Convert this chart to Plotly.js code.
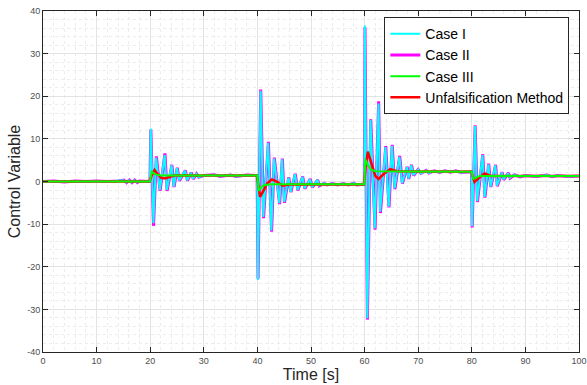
<!DOCTYPE html>
<html>
<head>
<meta charset="utf-8">
<script src="https://cdn.plot.ly/plotly-3.0.1.min.js"></script>
<style>
html,body{margin:0;padding:0;background:#fff;}
#chart{width:587px;height:385px;}
</style>
</head>
<body>
<div id="chart"></div>
<script>
// ---- Data ----
const case1T = [0,2,4,6,8,10,12,14,15,15.5,16,16.5,17,17.5,18,19.95,
  20.1,20.6,21.1,21.8,22.7,23.1,24.0,24.4,25.0,25.4,26.5,26.9,27.6,28.0,28.6,29.0,30,32,33,35,36,38,39.95,
  40.1,40.6,41.1,42.0,42.6,43.1,44.1,44.6,45.0,45.8,46.2,47.0,47.5,48.4,48.8,49.8,50.2,51.2,51.5,52.5,53,54,55,56,57,58,58.5,59.95,
  60.05,60.5,61.1,61.9,62.6,62.9,63.9,64.5,65.1,65.6,66.5,67.0,67.9,68.2,68.7,69.1,70,70.5,71.5,72,73,74,75,76,77,78,79.95,
  80.05,80.6,81.0,82.0,82.4,83.1,83.5,84.4,84.7,85.6,85.9,86.8,87.1,88,89,90,92,94,95,96,98,100];
const case1V = [0,0.1,-0.1,0.1,0,0.1,0,0.1,0.3,-0.2,0.3,-0.2,0.3,-0.2,0.1,0,
  12.4,-9.8,5.6,-2.0,6.2,-2.0,3.8,-1.2,3.1,0.3,2.5,0.3,2.0,0.7,1.8,1.0,1.4,1.6,1.2,1.5,1.2,1.5,1.4,
  -23.1,21.3,-8.3,9.1,-11.5,5.4,-5.1,5.2,-4.8,0.9,-2.4,1.7,-2.0,1.1,-1.6,0.5,-1.3,0.4,-0.9,-0.4,-0.8,-0.5,-0.8,-0.5,-0.8,-0.4,-0.8,-0.6,
  36.6,-32.1,14.4,-11.0,18.3,-7.1,8.1,-5.9,8.4,-1.6,5.8,-0.4,3.4,0.7,3.8,1.5,2.8,1.9,2.6,2.0,2.5,2.1,2.5,2.2,2.5,2.1,2.3,
  -10.5,13.0,-4.6,6.2,-3.6,4.0,-1.2,3.8,-1.0,2.1,0.5,1.9,0.9,1.6,1.1,1.4,1.2,1.5,1.1,1.4,1.2,1.3];

const case2T = [0,2,4,6,8,10,12,14,15.1,15.6,16.1,16.6,17.1,17.6,18,19.95,
  20.12,20.62,21.15,21.85,22.75,23.15,24.05,24.45,25.05,25.45,26.55,26.95,27.65,28.05,28.65,29.05,30,32,33,35,36,38,39.95,
  40.12,40.62,41.15,42.05,42.65,43.15,44.15,44.65,45.05,45.85,46.25,47.05,47.55,48.45,48.85,49.85,50.25,51.25,51.55,52.5,53,54,55,56,57,58,58.5,59.95,
  60.07,60.52,61.15,61.95,62.62,62.95,63.95,64.55,65.15,65.65,66.55,67.05,67.95,68.25,68.75,69.15,70,70.5,71.5,72,73,74,75,76,77,78,79.95,
  80.07,80.62,81.05,82.05,82.45,83.15,83.55,84.45,84.75,85.65,85.95,86.85,87.15,88,89,90,92,94,95,96,98,100];
const case2V = [0,0.1,-0.1,0.1,0,0.1,0,0.1,0.35,-0.25,0.35,-0.25,0.35,-0.25,0.1,0,
  12.2,-10.4,5.9,-2.2,6.6,-2.2,3.9,-1.3,3.2,0.2,2.6,0.2,2.1,0.6,1.8,1.0,1.4,1.6,1.2,1.5,1.2,1.5,1.4,
  -22.8,21.6,-8.6,9.3,-11.8,5.6,-5.3,5.4,-5.0,1.0,-2.5,1.8,-2.1,1.2,-1.7,0.6,-1.4,0.4,-1.0,-0.4,-0.8,-0.5,-0.8,-0.5,-0.8,-0.4,-0.8,-0.6,
  36.2,-32.4,14.6,-11.3,18.8,-7.4,8.3,-6.1,8.6,-1.8,6.0,-0.5,3.5,0.6,3.9,1.4,2.8,1.9,2.6,2.0,2.5,2.1,2.5,2.2,2.5,2.1,2.3,
  -10.8,13.2,-4.8,6.4,-3.8,4.2,-1.3,3.9,-1.1,2.2,0.4,2.0,0.8,1.6,1.1,1.4,1.2,1.5,1.1,1.4,1.2,1.3];

const case3T = [0,19.95,20.3,20.8,21.5,22,39.95,40.25,40.7,41.0,41.5,42.5,59.95,60.15,60.6,61.2,62,79.95,80.3,80.8,81.5,100];
const case3V = [0,0,2.3,1.8,1.5,1.4,1.4,-2.2,-1.4,-1.0,-0.8,-0.65,-0.65,5.2,3.8,2.8,2.4,2.3,0.6,0.9,1.3,1.3];

const unfT = [0,19.9,20.2,20.8,21.3,22.0,22.7,23.5,24.5,39.9,40.2,40.5,41.0,41.8,42.7,43.6,44.7,46,59.9,60.2,60.6,61.2,62.0,62.6,63.6,64.8,66,79.9,80.2,80.5,81.2,82.4,83.5,100];
const unfV = [0,0,1.2,2.7,1.9,0.9,0.7,1.0,1.4,1.4,-1.5,-3.6,-2.5,-0.5,0.5,0,-1.0,-0.7,-0.7,3.5,7.0,4.5,1.3,0.6,1.8,2.9,2.4,2.3,0.8,-0.1,0.7,1.9,1.3,1.3];

const xTicks = [0,10,20,30,40,50,60,70,80,90,100];
const yTicks = [-40,-30,-20,-10,0,10,20,30,40];

const traces = [
  {x: case2T, y: case2V, name: 'Case II', mode: 'lines', legendrank: 2,
   line: {color: '#ff00ff', width: 3}},
  {x: case1T, y: case1V, name: 'Case I', mode: 'lines', legendrank: 1,
   line: {color: '#00ffff', width: 2}},
  {x: unfT, y: unfV, name: 'Unfalsification Method', mode: 'lines', legendrank: 4,
   line: {color: '#ff0000', width: 2.5}},
  {x: case3T, y: case3V, name: 'Case III', mode: 'lines', legendrank: 3,
   line: {color: '#00ff00', width: 2}}
];

const axisCommon = {
  showline: true, linecolor: '#262626', linewidth: 1, mirror: 'ticks',
  ticks: 'inside', ticklen: 5, tickcolor: '#262626', tickwidth: 1,
  showgrid: true, gridcolor: '#e3e3e3', gridwidth: 1, zeroline: false,
  ticklabeloverflow: 'allow',
  tickfont: {size: 9, color: '#4d4d4d', family: 'Liberation Sans, Arial, sans-serif'},
  minor: {dtick: 2, showgrid: true, gridcolor: '#ececec', griddash: 'dot', gridwidth: 1, ticks: ''}
};

const layout = {
  width: 587, height: 385,
  margin: {l: 43, r: 8, t: 11, b: 33},
  paper_bgcolor: '#ffffff', plot_bgcolor: '#ffffff',
  font: {family: 'Liberation Sans, Arial, sans-serif', color: '#262626'},
  showlegend: true,
  xaxis: Object.assign({}, axisCommon, {
    range: [0, 100], tickvals: xTicks, ticktext: xTicks.map(String),
    title: {text: 'Time [s]', font: {size: 16, color: '#262626'}, standoff: 3}
  }),
  yaxis: Object.assign({}, axisCommon, {
    range: [-40, 40], tickvals: yTicks, ticktext: yTicks.map(String),
    title: {text: 'Control Variable', font: {size: 16, color: '#262626'}, standoff: 2}
  }),
  legend: {
    x: 0.982, xanchor: 'right', y: 0.982, yanchor: 'top',
    bgcolor: '#ffffff', bordercolor: '#262626', borderwidth: 1,
    font: {size: 14, color: '#000000'}, tracegroupgap: 0, itemwidth: 30,
    traceorder: 'normal'
  }
};

Plotly.newPlot('chart', traces, layout, {displayModeBar: false, staticPlot: true});
</script>
</body>
</html>
